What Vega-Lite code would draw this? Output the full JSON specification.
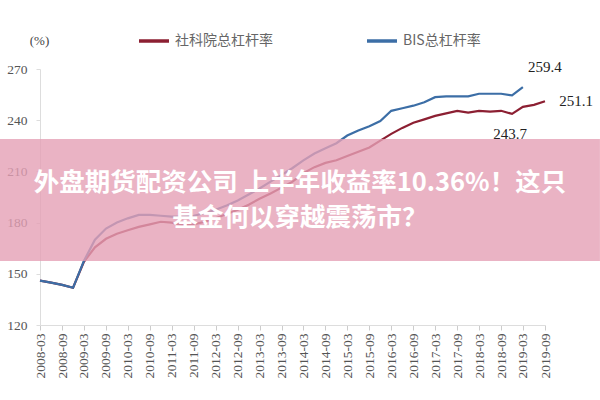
{
  "$schema": "https://vega.github.io/schema/vega-lite/v6.json",
  "width": 505,
  "height": 256,
  "autosize": "none",
  "padding": {"left": 40, "top": 69, "right": 55, "bottom": 75},
  "background": "white",
  "config": {"view": {"stroke": null}, "font": "Liberation Serif"},
  "datasets": {
    "series": [
      {"date": "2008-03", "series": "社科院总杠杆率", "value": 146.0},
      {"date": "2008-06", "series": "社科院总杠杆率", "value": 144.8},
      {"date": "2008-09", "series": "社科院总杠杆率", "value": 143.5},
      {"date": "2008-12", "series": "社科院总杠杆率", "value": 141.8},
      {"date": "2009-03", "series": "社科院总杠杆率", "value": 157.0},
      {"date": "2009-06", "series": "社科院总杠杆率", "value": 165.5},
      {"date": "2009-09", "series": "社科院总杠杆率", "value": 170.5},
      {"date": "2009-12", "series": "社科院总杠杆率", "value": 173.5},
      {"date": "2010-03", "series": "社科院总杠杆率", "value": 175.5},
      {"date": "2010-06", "series": "社科院总杠杆率", "value": 177.5},
      {"date": "2010-09", "series": "社科院总杠杆率", "value": 179.0},
      {"date": "2010-12", "series": "社科院总杠杆率", "value": 180.5},
      {"date": "2011-03", "series": "社科院总杠杆率", "value": 180.0},
      {"date": "2011-06", "series": "社科院总杠杆率", "value": 178.5},
      {"date": "2011-09", "series": "社科院总杠杆率", "value": 179.0},
      {"date": "2011-12", "series": "社科院总杠杆率", "value": 180.5},
      {"date": "2012-03", "series": "社科院总杠杆率", "value": 182.5},
      {"date": "2012-06", "series": "社科院总杠杆率", "value": 185.0},
      {"date": "2012-09", "series": "社科院总杠杆率", "value": 187.5},
      {"date": "2012-12", "series": "社科院总杠杆率", "value": 190.5},
      {"date": "2013-03", "series": "社科院总杠杆率", "value": 194.0},
      {"date": "2013-06", "series": "社科院总杠杆率", "value": 197.0},
      {"date": "2013-09", "series": "社科院总杠杆率", "value": 200.5},
      {"date": "2013-12", "series": "社科院总杠杆率", "value": 204.0},
      {"date": "2014-03", "series": "社科院总杠杆率", "value": 209.0},
      {"date": "2014-06", "series": "社科院总杠杆率", "value": 212.5},
      {"date": "2014-09", "series": "社科院总杠杆率", "value": 215.0},
      {"date": "2014-12", "series": "社科院总杠杆率", "value": 216.5},
      {"date": "2015-03", "series": "社科院总杠杆率", "value": 219.0},
      {"date": "2015-06", "series": "社科院总杠杆率", "value": 221.5},
      {"date": "2015-09", "series": "社科院总杠杆率", "value": 224.0},
      {"date": "2015-12", "series": "社科院总杠杆率", "value": 228.0},
      {"date": "2016-03", "series": "社科院总杠杆率", "value": 232.0},
      {"date": "2016-06", "series": "社科院总杠杆率", "value": 235.5},
      {"date": "2016-09", "series": "社科院总杠杆率", "value": 238.5},
      {"date": "2016-12", "series": "社科院总杠杆率", "value": 240.5},
      {"date": "2017-03", "series": "社科院总杠杆率", "value": 242.5},
      {"date": "2017-06", "series": "社科院总杠杆率", "value": 244.0},
      {"date": "2017-09", "series": "社科院总杠杆率", "value": 245.5},
      {"date": "2017-12", "series": "社科院总杠杆率", "value": 244.5},
      {"date": "2018-03", "series": "社科院总杠杆率", "value": 245.5},
      {"date": "2018-06", "series": "社科院总杠杆率", "value": 245.0},
      {"date": "2018-09", "series": "社科院总杠杆率", "value": 245.5},
      {"date": "2018-12", "series": "社科院总杠杆率", "value": 243.7},
      {"date": "2019-03", "series": "社科院总杠杆率", "value": 247.8},
      {"date": "2019-06", "series": "社科院总杠杆率", "value": 249.0},
      {"date": "2019-09", "series": "社科院总杠杆率", "value": 251.1},
      {"date": "2008-03", "series": "BIS总杠杆率", "value": 146.0},
      {"date": "2008-06", "series": "BIS总杠杆率", "value": 144.8},
      {"date": "2008-09", "series": "BIS总杠杆率", "value": 143.5},
      {"date": "2008-12", "series": "BIS总杠杆率", "value": 141.8},
      {"date": "2009-03", "series": "BIS总杠杆率", "value": 157.5},
      {"date": "2009-06", "series": "BIS总杠杆率", "value": 170.0},
      {"date": "2009-09", "series": "BIS总杠杆率", "value": 176.5},
      {"date": "2009-12", "series": "BIS总杠杆率", "value": 180.0},
      {"date": "2010-03", "series": "BIS总杠杆率", "value": 182.5},
      {"date": "2010-06", "series": "BIS总杠杆率", "value": 184.5},
      {"date": "2010-09", "series": "BIS总杠杆率", "value": 184.5},
      {"date": "2010-12", "series": "BIS总杠杆率", "value": 184.0},
      {"date": "2011-03", "series": "BIS总杠杆率", "value": 183.5},
      {"date": "2011-06", "series": "BIS总杠杆率", "value": 183.5},
      {"date": "2011-09", "series": "BIS总杠杆率", "value": 184.0},
      {"date": "2011-12", "series": "BIS总杠杆率", "value": 185.5},
      {"date": "2012-03", "series": "BIS总杠杆率", "value": 187.5},
      {"date": "2012-06", "series": "BIS总杠杆率", "value": 190.0},
      {"date": "2012-09", "series": "BIS总杠杆率", "value": 193.0},
      {"date": "2012-12", "series": "BIS总杠杆率", "value": 196.5},
      {"date": "2013-03", "series": "BIS总杠杆率", "value": 200.0},
      {"date": "2013-06", "series": "BIS总杠杆率", "value": 204.0},
      {"date": "2013-09", "series": "BIS总杠杆率", "value": 208.0},
      {"date": "2013-12", "series": "BIS总杠杆率", "value": 212.0},
      {"date": "2014-03", "series": "BIS总杠杆率", "value": 216.5},
      {"date": "2014-06", "series": "BIS总杠杆率", "value": 220.5},
      {"date": "2014-09", "series": "BIS总杠杆率", "value": 223.5},
      {"date": "2014-12", "series": "BIS总杠杆率", "value": 226.5},
      {"date": "2015-03", "series": "BIS总杠杆率", "value": 231.0},
      {"date": "2015-06", "series": "BIS总杠杆率", "value": 234.0},
      {"date": "2015-09", "series": "BIS总杠杆率", "value": 236.5},
      {"date": "2015-12", "series": "BIS总杠杆率", "value": 239.5},
      {"date": "2016-03", "series": "BIS总杠杆率", "value": 245.5},
      {"date": "2016-06", "series": "BIS总杠杆率", "value": 247.0},
      {"date": "2016-09", "series": "BIS总杠杆率", "value": 248.5},
      {"date": "2016-12", "series": "BIS总杠杆率", "value": 250.5},
      {"date": "2017-03", "series": "BIS总杠杆率", "value": 253.5},
      {"date": "2017-06", "series": "BIS总杠杆率", "value": 254.0},
      {"date": "2017-09", "series": "BIS总杠杆率", "value": 254.0},
      {"date": "2017-12", "series": "BIS总杠杆率", "value": 254.0},
      {"date": "2018-03", "series": "BIS总杠杆率", "value": 255.5},
      {"date": "2018-06", "series": "BIS总杠杆率", "value": 255.5},
      {"date": "2018-09", "series": "BIS总杠杆率", "value": 255.5},
      {"date": "2018-12", "series": "BIS总杠杆率", "value": 254.5},
      {"date": "2019-03", "series": "BIS总杠杆率", "value": 259.4}
    ],
    "labels": [
      {"date": "2019-03", "value": 259.4, "label": "259.4", "dxk": "a"},
      {"date": "2019-09", "value": 251.1, "label": "251.1", "dxk": "b"},
      {"date": "2018-12", "value": 243.7, "label": "243.7", "dxk": "c"}
    ],
    "banner": [
      {"start": "2007-04", "end": "2020-12", "lo": 157.5, "hi": 229.0}
    ],
    "headline": [
      {"date": "2014-02", "value": 203.2, "text": ["外盘期货配资公司 上半年收益率10.36%！这只", "基金何以穿越震荡市？"]}
    ]
  },
  "layer": [
    {
      "data": {"name": "series"},
      "mark": {"type": "line", "strokeWidth": 2.2},
      "encoding": {
        "x": {
          "field": "date", "type": "temporal", "timeUnit": "utcyearmonth",
          "scale": {"domain": [{"year": 2008, "month": 3, "utc": true}, {"year": 2019, "month": 9, "utc": true}]},
          "axis": {
            "title": null, "format": "%Y-%m", "labelAngle": -90, "labelFont": "Liberation Serif",
            "labelFontSize": 13.5, "labelColor": "#555", "labelPadding": 3, "grid": false,
            "labelOverlap": false, "labelFlush": false, "labelBound": false, "tickCount": 60,
            "domainColor": "#dddddd", "tickColor": "#cccccc", "tickSize": 5,
            "values": [
              {"year": 2008, "month": 3, "utc": true}, {"year": 2008, "month": 9, "utc": true},
              {"year": 2009, "month": 3, "utc": true}, {"year": 2009, "month": 9, "utc": true},
              {"year": 2010, "month": 3, "utc": true}, {"year": 2010, "month": 9, "utc": true},
              {"year": 2011, "month": 3, "utc": true}, {"year": 2011, "month": 9, "utc": true},
              {"year": 2012, "month": 3, "utc": true}, {"year": 2012, "month": 9, "utc": true},
              {"year": 2013, "month": 3, "utc": true}, {"year": 2013, "month": 9, "utc": true},
              {"year": 2014, "month": 3, "utc": true}, {"year": 2014, "month": 9, "utc": true},
              {"year": 2015, "month": 3, "utc": true}, {"year": 2015, "month": 9, "utc": true},
              {"year": 2016, "month": 3, "utc": true}, {"year": 2016, "month": 9, "utc": true},
              {"year": 2017, "month": 3, "utc": true}, {"year": 2017, "month": 9, "utc": true},
              {"year": 2018, "month": 3, "utc": true}, {"year": 2018, "month": 9, "utc": true},
              {"year": 2019, "month": 3, "utc": true}, {"year": 2019, "month": 9, "utc": true}
            ]
          }
        },
        "y": {
          "field": "value", "type": "quantitative",
          "scale": {"domain": [120, 270], "nice": false, "zero": false},
          "axis": {
            "values": [120, 150, 180, 210, 240, 270], "grid": false,
            "labelFont": "Liberation Serif", "labelFontSize": 13.5, "labelColor": "#555", "labelPadding": 9,
            "domainColor": "#dddddd", "tickColor": "#dddddd", "tickSize": 4,
            "title": "(%)", "titleAngle": 0, "titleX": -1, "titleY": -29, "titleAlign": "center",
            "titleBaseline": "middle", "titleFont": "Liberation Serif", "titleFontSize": 13,
            "titleFontWeight": "normal", "titleColor": "#444"
          }
        },
        "color": {
          "field": "series", "type": "nominal",
          "scale": {"domain": ["社科院总杠杆率", "BIS总杠杆率"], "range": ["#8c1f32", "#3c6ea6"]},
          "legend": {
            "orient": "none", "legendX": 97, "legendY": -45, "direction": "horizontal", "title": null,
            "symbolType": "stroke", "symbolSize": 900, "symbolStrokeWidth": 3.5,
            "labelFont": "Noto Sans CJK SC", "labelFontSize": 14, "labelColor": "#666",
            "labelOffset": 4, "columnPadding": 87
          }
        }
      }
    },
    {
      "data": {"name": "banner"},
      "mark": {"type": "rect", "color": "#e5a0b5", "opacity": 0.8},
      "encoding": {
        "x": {"field": "start", "type": "temporal", "timeUnit": "utcyearmonth"},
        "x2": {"field": "end", "timeUnit": "utcyearmonth"},
        "y": {"field": "hi", "type": "quantitative"},
        "y2": {"field": "lo"}
      }
    },
    {
      "data": {"name": "headline"},
      "mark": {"type": "text", "font": "Noto Sans CJK SC", "fontSize": 25.5, "fontWeight": "bold", "color": "white", "align": "center", "baseline": "middle", "lineHeight": 35},
      "encoding": {
        "x": {"field": "date", "type": "temporal", "timeUnit": "utcyearmonth"},
        "y": {"field": "value", "type": "quantitative"},
        "text": {"field": "text"}
      }
    },
    {
      "data": {"name": "labels"},
      "transform": [{"filter": "datum.dxk == 'a'"}],
      "mark": {"type": "text", "font": "Liberation Serif", "fontSize": 15, "color": "#222", "dx": 22, "dy": -20, "align": "center", "baseline": "middle"},
      "encoding": {
        "x": {"field": "date", "type": "temporal", "timeUnit": "utcyearmonth"},
        "y": {"field": "value", "type": "quantitative"},
        "text": {"field": "label"}
      }
    },
    {
      "data": {"name": "labels"},
      "transform": [{"filter": "datum.dxk == 'b'"}],
      "mark": {"type": "text", "font": "Liberation Serif", "fontSize": 15, "color": "#222", "dx": 31, "dy": 0, "align": "center", "baseline": "middle"},
      "encoding": {
        "x": {"field": "date", "type": "temporal", "timeUnit": "utcyearmonth"},
        "y": {"field": "value", "type": "quantitative"},
        "text": {"field": "label"}
      }
    },
    {
      "data": {"name": "labels"},
      "transform": [{"filter": "datum.dxk == 'c'"}],
      "mark": {"type": "text", "font": "Liberation Serif", "fontSize": 15, "color": "#222", "dx": -2, "dy": 20, "align": "center", "baseline": "middle"},
      "encoding": {
        "x": {"field": "date", "type": "temporal", "timeUnit": "utcyearmonth"},
        "y": {"field": "value", "type": "quantitative"},
        "text": {"field": "label"}
      }
    }
  ]
}
